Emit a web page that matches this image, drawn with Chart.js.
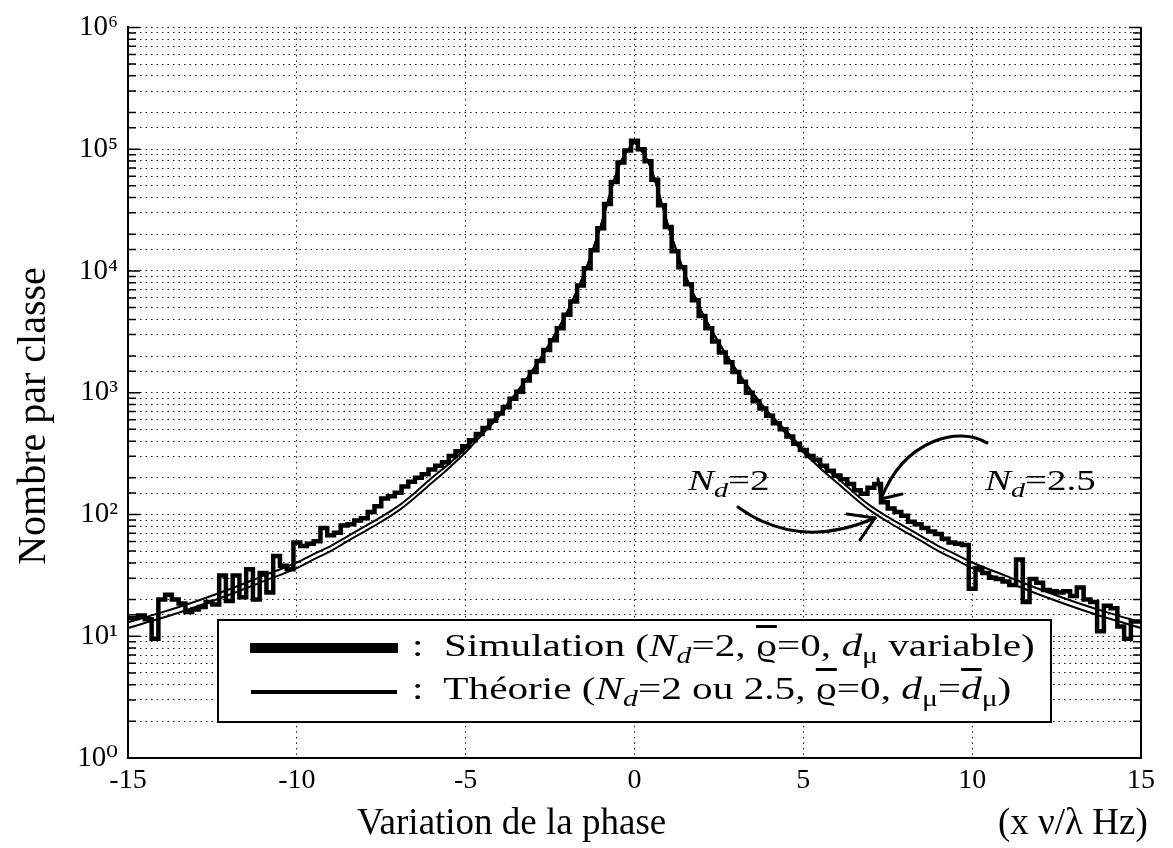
<!DOCTYPE html>
<html>
<head>
<meta charset="utf-8">
<script src="https://cdn.jsdelivr.net/npm/chart.js@4.4.1/dist/chart.umd.min.js"></script>
<style>
  html, body { margin: 0; padding: 0; background: #fff; }
  #wrap { position: relative; width: 1173px; height: 848px; overflow: hidden; font-family: "Liberation Serif", "DejaVu Serif", serif; color: #000; }
  canvas { position: absolute; left: 0; top: 0; }
  .ov { position: absolute; white-space: nowrap; }
  .it { font-style: italic; }
  .sb { font-size: 0.72em; vertical-align: -0.32em; }
  .bar { text-decoration: overline; }
  .stretch { display: inline-block; transform-origin: left top; }
</style>
</head>
<body>
<div id="wrap">
  <canvas id="c" width="1173" height="848"></canvas>

  <div class="ov" style="left:-168px; top:396px; width:400px; text-align:center; font-size:40px; line-height:40px; transform:rotate(-90deg);">Nombre par classe</div>
  <div class="ov" style="left:357px; top:803px; font-size:37px; line-height:37px;">Variation de la phase</div>
  <div class="ov" style="left:998px; top:803px; font-size:37px; line-height:37px;">(x ν/λ Hz)</div>

  <div class="ov" style="left:688px; top:465px; font-size:30px; line-height:30px;"><span class="stretch" style="transform:scaleX(1.3)"><span class="it">N</span><span class="sb it">d</span>=2</span></div>
  <div class="ov" style="left:985px; top:465px; font-size:30px; line-height:30px;"><span class="stretch" style="transform:scaleX(1.3)"><span class="it">N</span><span class="sb it">d</span>=2.5</span></div>

  <svg class="ov" style="left:0; top:0;" width="1173" height="848">
    <g fill="none" stroke="#000" stroke-width="3" stroke-linecap="round">
      <path d="M738,507 Q798,551 875,518"/>
      <path d="M875,518 L847,514"/>
      <path d="M875,518 L860,540"/>
      <path d="M987,443 C960,426 905,438 881,499"/>
      <path d="M881,499 L878,479"/>
      <path d="M881,499 L902,494"/>
    </g>
  </svg>

  <div class="ov" style="left:217px; top:619px; width:835px; height:104px; box-sizing:border-box; border:2px solid #000; background:#fff;"></div>
  <div class="ov" style="left:250px; top:643px; width:148px; height:10px; background:#000;"></div>
  <div class="ov" style="left:251px; top:690px; width:146px; height:4px; background:#000;"></div>
  <div class="ov" style="left:412px; top:630px; font-size:31px; line-height:31px;"><span class="stretch" style="transform:scaleX(1.33)">:&nbsp; Simulation (<span class="it">N</span><span class="sb it">d</span>=2, <span class="bar">ϱ</span>=0, <span class="it">d</span><span class="sb">μ</span> variable)</span></div>
  <div class="ov" style="left:412px; top:673px; font-size:31px; line-height:31px;"><span class="stretch" style="transform:scaleX(1.33)">:&nbsp; Théorie (<span class="it">N</span><span class="sb it">d</span>=2 ou 2.5, <span class="bar">ϱ</span>=0, <span class="it">d</span><span class="sb">μ</span>=<span class="it bar">d</span><span class="sb">μ</span>)</span></div>
</div>

<script>
// ---- Data ----
// Histogram: bin centres from -14.8 to 14.8 (bin width 0.2), counts per bin
const binWidth = 0.2;
const firstBinCentre = -14.8;
const simCounts = [
  14.1, 14.8, 13.8, 9.55, 20.0, 21.9, 20.0, 18.6, 15.8, 16.6,
  17.4, 19.1, 18.2, 31.6, 19.5, 31.6, 20.9, 35.5, 20.0, 33.1,
  22.9, 45.7, 38.0, 35.5, 58.9, 55.0, 57.5, 60.3, 77.6, 67.6,
  70.8, 81.3, 83.2, 89.1, 93.3, 105, 117, 135, 141, 151,
  170, 186, 200, 214, 234, 251, 269, 302, 331, 363,
  407, 457, 513, 589, 676, 759, 891, 1020, 1260, 1480,
  1820, 2240, 2690, 3390, 4370, 5620, 7590, 10500, 14800, 22400,
  35500, 53700, 77600, 97700,
  117500,
  100000, 79400, 56200, 34700, 22900, 14500, 10700, 7760, 5750, 4270,
  3390, 2630, 2140, 1780, 1480, 1230, 1000, 851, 741, 646,
  562, 501, 437, 380, 339, 302, 282, 251, 229, 209,
  195, 178, 158, 148, 166, 178, 126, 112, 105, 97.7,
  87.1, 83.2, 77.6, 72.4, 69.2, 63.1, 58.9, 57.5, 56.2, 24.5,
  36.3, 33.1, 30.2, 29.5, 28.2, 26.3, 42.7, 19.1, 29.5, 27.5,
  24.0, 23.4, 22.9, 23.4, 21.4, 25.1, 20.0, 19.1, 11.0, 17.8,
  17.0, 12.0, 9.55, 13.2
];

// Theory curves
const theoryX = [-15, -14, -13, -12, -11, -10, -9.5, -9, -8.5, -8, -7.5, -7, -6.5, -6, -5.5, -5, -4.5, -4, -3.5, -3, -2.5, -2, -1.75, -1.5, -1.25, -1, -0.8, -0.6, -0.4, -0.2,
  0, 0.2, 0.4, 0.6, 0.8, 1, 1.25, 1.5, 1.75, 2, 2.5, 3, 3.5, 4, 4.5, 5, 5.5, 6, 6.5, 7, 7.5, 8, 8.5, 9, 9.5, 10, 11, 12, 13, 14, 15];
const theoryNd2 = [11.7, 14.1, 17.4, 21.9, 28.2, 36.3, 42.7, 50.1, 60.3, 72.4, 87.1, 107, 138, 182, 240, 324, 457, 646, 977, 1550, 2570, 4570, 6460, 9330, 14500, 23400, 36300, 56200, 79400, 97700,
  112200, 97700, 79400, 56200, 36300, 23400, 14500, 9330, 6460, 4570, 2570, 1550, 977, 646, 457, 324, 240, 182, 138, 107, 87.1, 72.4, 60.3, 50.1, 42.7, 36.3, 28.2, 21.9, 17.4, 14.1, 11.7];
const theoryNd25 = [13.0, 15.7, 19.3, 24.3, 31.3, 40.3, 47.3, 55.0, 66.1, 79.4, 95.5, 117, 151, 200, 260, 347, 484, 676, 1000, 1560, 2570, 4570, 6460, 9330, 14500, 23400, 36300, 56200, 79400, 97700,
  112200, 97700, 79400, 56200, 36300, 23400, 14500, 9330, 6460, 4570, 2570, 1560, 1000, 676, 484, 347, 260, 200, 151, 117, 95.5, 79.4, 66.1, 55.0, 47.3, 40.3, 31.3, 24.3, 19.3, 15.7, 13.0];

const xTicks = [-15, -10, -5, 0, 5, 10, 15];
const yDecades = [1, 10, 100, 1000, 10000, 100000, 1000000];
const supDigits = ['⁰','¹','²','³','⁴','⁵','⁶'];

// ---- Build datasets ----
const simPts = simCounts.map((v, i) => ({ x: firstBinCentre + binWidth * i, y: v }));
simPts.unshift({ x: -15, y: simCounts[0] });
simPts.push({ x: 15, y: simCounts[simCounts.length - 1] });
const th2Pts = theoryX.map((x, i) => ({ x: x, y: theoryNd2[i] }));
const th25Pts = theoryX.map((x, i) => ({ x: x, y: theoryNd25[i] }));

const FONT = '"Liberation Serif", "DejaVu Serif", serif';

const framePlugin = {
  id: 'frame',
  afterDraw(chart) {
    const { ctx, chartArea: a, scales } = chart;
    const ys = scales.y;
    ctx.save();
    ctx.strokeStyle = '#000';
    ctx.lineWidth = 2;
    ctx.beginPath();
    ctx.moveTo(a.right, a.top);
    ctx.lineTo(a.right, a.bottom);
    ctx.stroke();
    ctx.lineWidth = 1.5;
    ys.ticks.forEach(t => {
      const p = ys.getPixelForValue(t.value);
      const e = Math.log10(t.value);
      const major = Math.abs(e - Math.round(e)) < 1e-6;
      const len = major ? 12 : 8;
      ctx.beginPath();
      ctx.moveTo(a.left, p); ctx.lineTo(a.left + len, p);
      ctx.moveTo(a.right, p); ctx.lineTo(a.right - len, p);
      ctx.stroke();
    });
    ctx.restore();
  }
};

new Chart(document.getElementById('c'), {
  type: 'line',
  data: {
    datasets: [
      { label: 'Théorie N_d=2', data: th2Pts, borderColor: '#000', borderWidth: 2, pointRadius: 0, cubicInterpolationMode: 'monotone', fill: false },
      { label: 'Théorie N_d=2.5', data: th25Pts, borderColor: '#000', borderWidth: 2, pointRadius: 0, cubicInterpolationMode: 'monotone', fill: false },
      { label: 'Simulation', data: simPts, borderColor: '#000', borderWidth: 4.5, pointRadius: 0, stepped: 'middle', fill: false }
    ]
  },
  options: {
    responsive: false,
    animation: false,
    devicePixelRatio: 1,
    layout: { padding: { left: 0, right: 32, top: 20, bottom: 0 } },
    plugins: { legend: { display: false }, tooltip: { enabled: false } },
    scales: {
      x: {
        type: 'linear', min: -15, max: 15,
        afterBuildTicks(s) { s.ticks = xTicks.map(v => ({ value: v })); },
        ticks: { color: '#000', font: { family: FONT, size: 28 }, padding: 6, maxRotation: 0, callback: v => String(v) },
        grid: { color: 'rgba(0,0,0,0.9)', lineWidth: 1, drawTicks: false },
        border: { display: true, color: '#000', width: 2, dash: [1.5, 4] },
        afterFit(s) { s.height = 90; }
      },
      y: {
        type: 'logarithmic', min: 1, max: 1000000,
        ticks: {
          autoSkip: false, color: '#000', font: { family: FONT, size: 29 }, padding: 10,
          callback: v => {
            const i = yDecades.indexOf(v);
            return i >= 0 ? '10' + supDigits[i] : '';
          }
        },
        grid: { color: 'rgba(0,0,0,0.9)', lineWidth: 1, drawTicks: false },
        border: { display: true, color: '#000', width: 2, dash: [1.5, 4] },
        afterFit(s) { s.width = 128; }
      }
    }
  },
  plugins: [framePlugin]
});
</script>
</body>
</html>
